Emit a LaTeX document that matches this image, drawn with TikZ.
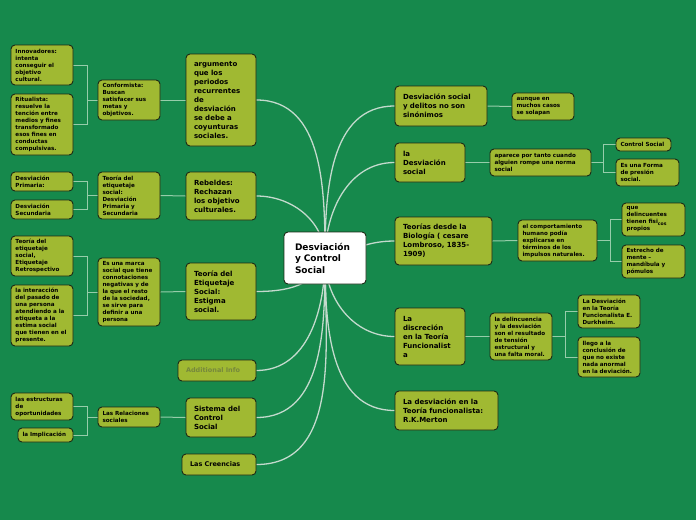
\documentclass[tikz,border=0pt]{standalone}
\usepackage{fontspec}
\setmainfont{DejaVu Sans}
\definecolor{fondo}{RGB}{22,137,76}
\definecolor{oliva}{RGB}{160,185,50}
\definecolor{borde}{RGB}{28,40,20}
\definecolor{colrama}{RGB}{195,218,205}
\definecolor{colhilo}{RGB}{150,205,170}
\definecolor{gris}{RGB}{118,136,60}
\pgfdeclarelayer{capafondo}
\pgfdeclarelayer{ramas}
\pgfsetlayers{capafondo,ramas,main}
\begin{document}
\begin{tikzpicture}[x=1pt,y=-1pt,
	relleno/.code={\def\relleno{#1}},
	caja/.style={draw=borde, line width=0.9pt, fill=oliva, rounded corners=4pt, align=left, inner ysep=2pt, inner xsep=4.5pt, relleno=4.5, font=\bfseries\fontsize{5.6}{7}\selectfont},
	grande/.style={caja, inner xsep=8pt, relleno=8, font=\bfseries\fontsize{7}{9}\selectfont},
	tam/.code 2 args={\pgfmathsetmacro\anchotxt{#1-2*\relleno}\pgfkeysalso{minimum width=#1pt, minimum height=#2pt, text width=\anchotxt pt}},
	rama/.style={draw=colrama, line width=1.3pt},
	hilo/.style={draw=colhilo, line width=1pt}]

	\begin{pgfonlayer}{capafondo}
	\fill[fondo] (0,0) rectangle (696,520);
	\end{pgfonlayer}

	% centro
	\node[caja, fill=white, inner xsep=11pt, relleno=11, tam={82}{52}, font=\bfseries\fontsize{9}{11.5}\selectfont] (c) at (325,258) {Desviación\\y Control\\Social};

	% izquierda
	\node[grande, tam={70}{92}] (arg) at (221,100) {argumento\\que los\\periodos\\recurrentes\\de\\desviación\\se debe a\\coyunturas\\sociales.};
	\node[grande, tam={70}{48}] (rebe) at (221,196) {Rebeldes:\\Rechazan\\los objetivo\\culturales.};
	\node[grande, tam={70}{57}] (etiq) at (221,291.5) {Teoría del\\Etiquetaje\\Social:\\Estigma\\social.};
	\node[grande, tam={78}{21}, text=gris, font=\bfseries\fontsize{6.5}{8}\selectfont] (addi) at (217,370.5) {Additional Info};
	\node[grande, tam={70}{39}] (sist) at (221,417.5) {Sistema del\\Control\\Social};
	\node[grande, tam={74}{21}, font=\bfseries\fontsize{6.5}{8}\selectfont] (cree) at (219,464.5) {Las Creencias};

	\node[caja, tam={62}{40}] (conf) at (129,100) {Conformista:\\Buscan\\satisfacer sus\\metas y\\objetivos.};
	\node[caja, tam={62}{47}] (teds) at (129,195.5) {Teoría  del\\etiquetaje\\social:\\Desviación\\Primaria y\\Secundaria};
	\node[caja, tam={62}{68}] (marca) at (129,292) {Es una marca\\social que tiene\\connotaciones\\negativas y de\\la que el resto\\de la sociedad,\\se sirve  para\\definir a una\\persona};
	\node[caja, tam={62}{20}] (rel) at (129,417) {Las Relaciones\\sociales};

	\node[caja, tam={62}{40}] (inno) at (42,65) {Innovadores:\\intenta\\conseguir el\\objetivo\\cultural.};
	\node[caja, tam={62}{61}] (ritu) at (42,124.5) {Ritualista:\\resuelve la\\tención entre\\medios y fines\\transformado\\esos fines en\\conductas\\compulsivas.};
	\node[caja, tam={62}{19}] (dprim) at (42,181.5) {Desviación\\Primaria:};
	\node[caja, tam={62}{19}] (dsec) at (42,209.5) {Desviación\\Secundaria};
	\node[caja, tam={62}{40}] (tes) at (42,256) {Teoría del\\etiquetaje\\social,\\Etiquetaje\\Retrospectivo};
	\node[caja, tam={62}{61}] (inter) at (42,315.5) {la interacción\\del pasado de\\una persona\\atendiendo a la\\etiqueta a la\\estima social\\que tienen en el\\presente.};
	\node[caja, tam={62}{27}] (estr) at (42,406.5) {las estructuras\\de\\oportunidades};
	\node[caja, tam={55}{14}] (impl) at (45.5,435) {la Implicación};

	% derecha
	\node[grande, tam={92}{40}] (delit) at (441,106) {Desviación social\\y delitos no son\\sinónimos};
	\node[grande, tam={70}{39}] (dsoc) at (430,162.5) {la\\Desviación\\social};
	\node[grande, tam={97}{48}] (biol) at (443.5,241) {Teorías desde la\\Biología ( cesare\\Lombroso, 1835-\\1909)};
	\node[grande, tam={70}{57}] (disc) at (430,336.5) {La\\discreción\\en la  Teoría\\Funcionalist\\a};
	\node[grande, tam={103}{39}] (mert) at (446.5,410.5) {La desviación en la\\Teoría funcionalista:\\R.K.Merton};

	\node[caja, tam={62}{27}] (solap) at (543,106.5) {aunque en\\muchos casos\\se solapan};
	\node[caja, tam={101}{27}] (apar) at (540.5,162.5) {aparece por tanto cuando\\alguien rompe una norma\\social};
	\node[caja, tam={79}{41}] (comp) at (557.5,240.5) {el comportamiento\\humano podía\\explicarse en\\términos de los\\impulsos naturales.};
	\node[caja, tam={62}{47}] (delin) at (521,336.5) {la delincuencia\\y la desviación\\son el resultado\\de tensión\\estructural y\\una falta moral.};

	\node[caja, tam={55}{13}] (csoc) at (643.5,144.5) {Control Social};
	\node[caja, tam={63}{27}] (forma) at (647.5,172.5) {Es una Forma\\de presión\\social.};
	\node[caja, tam={63}{33}] (fisi) at (653.5,219.5) {que\\delincuentes\\tienen fisi\raisebox{-1.2pt}{\fontsize{4.6}{5}\selectfont cos}\\propios};
	\node[caja, tam={63}{33}] (estre) at (653.5,261.5) {Estrecho de\\mente –\\mandíbula y\\pómulos};
	\node[caja, tam={62}{33}] (durk) at (609,311.5) {La Desviación\\en la Teoría\\Funcionalista E.\\Durkheim.};
	\node[caja, tam={62}{40}] (lleg) at (609,357) {llego a la\\conclusión de\\que no existe\\nada anormal\\en la deviación.};

	% uniones
	\coordinate (jconf) at (87,100);
	\coordinate (jteds) at (87,195.5);
	\coordinate (jmarca) at (87,292);
	\coordinate (jrel) at (87,417);
	\coordinate (japar) at (603,162.5);
	\coordinate (jcomp) at (610,240.5);
	\coordinate (jdelin) at (565,336.5);

	\begin{pgfonlayer}{ramas}
	\draw[rama] (c.center) to[out=90, in=0] (arg.east);
	\draw[rama] (c.center) to[out=90, in=0] (rebe.east);
	\draw[rama] (c.center) to[out=-110, in=0] (etiq.east);
	\draw[rama] (c.center) to[out=-90, in=0] (addi.east);
	\draw[rama] (c.center) to[out=-90, in=0] (sist.east);
	\draw[rama] (c.center) to[out=-90, in=0] (cree.east);
	\draw[rama] (c.center) to[out=90, in=180] (delit.west);
	\draw[rama] (c.center) to[out=90, in=180] (dsoc.west);
	\draw[rama] (c.center) to[out=15, in=180] (biol.west);
	\draw[rama] (c.center) to[out=-90, in=180] (disc.west);
	\draw[rama] (c.center) to[out=-90, in=180] (mert.west);

	\draw[hilo] (conf.east) -- (arg.west);
	\draw[hilo] (teds.east) -- (rebe.west);
	\draw[hilo] (marca.east) -- (etiq.west);
	\draw[hilo] (rel.east) -- (sist.west);
	\draw[hilo] (inno.east) -| (jconf) -- (conf.west);
	\draw[hilo] (ritu.east) -| (jconf);
	\draw[hilo] (dprim.east) -| (jteds) -- (teds.west);
	\draw[hilo] (dsec.east) -| (jteds);
	\draw[hilo] (tes.east) -| (jmarca) -- (marca.west);
	\draw[hilo] (inter.east) -| (jmarca);
	\draw[hilo] (estr.east) -| (jrel) -- (rel.west);
	\draw[hilo] (impl.east) -| (jrel);

	\draw[hilo] (delit.east) -- (solap.west);
	\draw[hilo] (dsoc.east) -- (apar.west);
	\draw[hilo] (biol.east) -- (comp.west);
	\draw[hilo] (disc.east) -- (delin.west);
	\draw[hilo] (apar.east) -- (japar) |- (csoc.west);
	\draw[hilo] (japar) |- (forma.west);
	\draw[hilo] (comp.east) -- (jcomp) |- (fisi.west);
	\draw[hilo] (jcomp) |- (estre.west);
	\draw[hilo] (delin.east) -- (jdelin) |- (durk.west);
	\draw[hilo] (jdelin) |- (lleg.west);
	\end{pgfonlayer}
\end{tikzpicture}
\end{document}
